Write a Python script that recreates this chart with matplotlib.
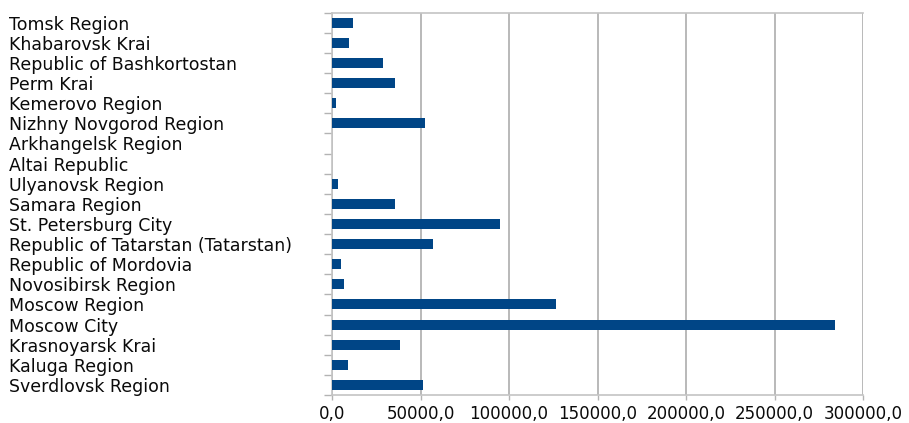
"""
地域別の横棒グラフ
"""
import matplotlib
matplotlib.use("Agg")
import matplotlib.pyplot as plt
import numpy as np
from matplotlib.ticker import FuncFormatter, FixedLocator

# 上から順に並べた地域名と値
regions = [
    "Tomsk Region",
    "Khabarovsk Krai",
    "Republic of Bashkortostan",
    "Perm Krai",
    "Kemerovo Region",
    "Nizhny Novgorod Region",
    "Arkhangelsk Region",
    "Altai Republic",
    "Ulyanovsk Region",
    "Samara Region",
    "St. Petersburg City",
    "Republic of Tatarstan (Tatarstan)",
    "Republic of Mordovia",
    "Novosibirsk Region",
    "Moscow Region",
    "Moscow City",
    "Krasnoyarsk Krai",
    "Kaluga Region",
    "Sverdlovsk Region",
]
values = [11700, 9800, 29000, 35600, 2300, 52500, 0, 0, 3200, 35500,
          95100, 57200, 5100, 7000, 126600, 284200, 38400, 8900, 51600]
x_ticks = [0, 50000, 100000, 150000, 200000, 250000, 300000]

plt.rcParams['font.family'] = ['DejaVu Sans']

fig = plt.figure(figsize=(9.09, 4.23), dpi=100)
ax = fig.add_axes([332 / 909, 28 / 423, 531 / 909, 382.3 / 423])

y = np.arange(len(regions))
ax.barh(y, values, height=0.5, color='#004586', zorder=3)

ax.set_xlim(0, 300000)
ax.set_ylim(len(regions) - 0.5, -0.5)

# 縦の目盛り線
ax.set_xticks(x_ticks)
ax.xaxis.set_major_formatter(FuncFormatter(lambda v, p: f"{v:.1f}".replace('.', ',')))
ax.grid(axis='x', color='#b3b3b3', linewidth=1.3, zorder=0)

# ラベルは左寄せ、目盛りは区切り位置に
ax.set_yticks(y)
ax.set_yticklabels(regions, ha='left')
ax.yaxis.set_minor_locator(FixedLocator(np.arange(-0.5, len(regions), 1.0)))
ax.tick_params(axis='y', which='major', length=0, pad=323 * 0.72, labelsize=12.5, labelcolor='#0a0a0a')
ax.tick_params(axis='y', which='minor', length=5.8, width=1.0, color='#b3b3b3')
ax.tick_params(axis='x', length=3.8, width=1.0, color='#b3b3b3', pad=3.5, labelsize=12, labelcolor='#0a0a0a')

for s in ['top', 'bottom', 'left']:
    ax.spines[s].set_color('#c4c4c4')
    ax.spines[s].set_linewidth(1.2)
ax.spines['right'].set_visible(False)

fig.savefig('out.png', dpi=100)
plt.close()
